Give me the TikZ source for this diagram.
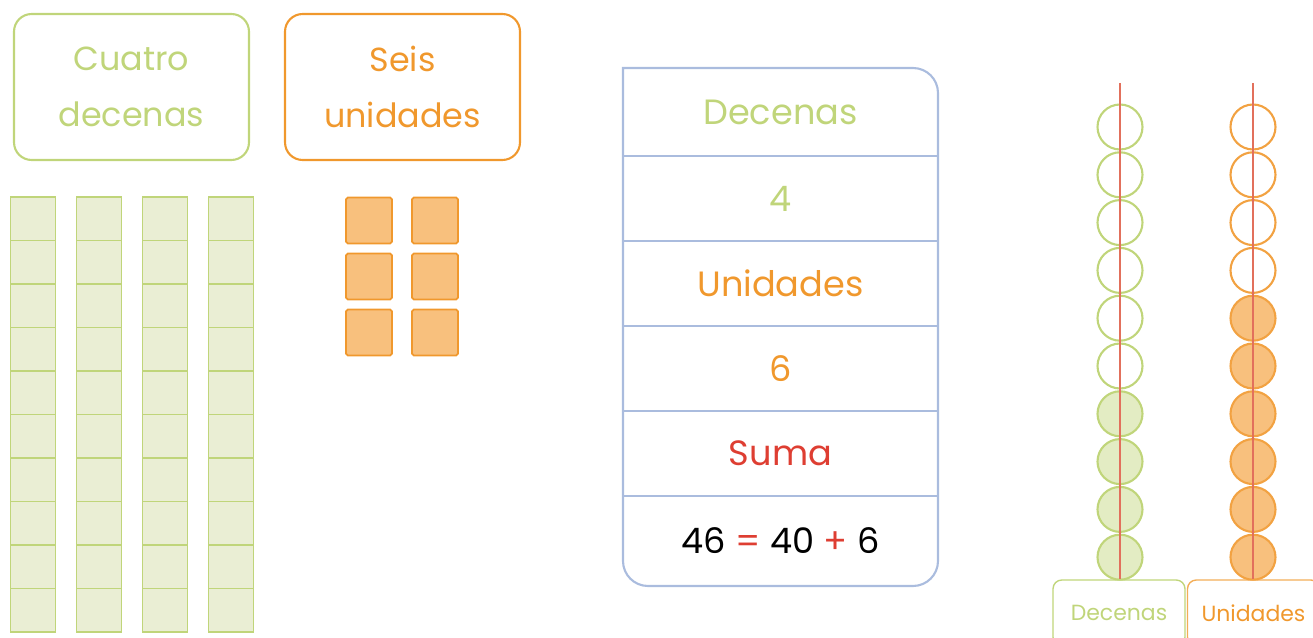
\documentclass[tikz,border=0pt]{standalone}
\usepackage{fontspec}
\setmainfont{Poppins}
\usetikzlibrary{positioning, calc}
\definecolor{tens}{RGB}{192,213,122}
\definecolor{tensfill}{RGB}{234,238,212}
\definecolor{units}{RGB}{240,152,45}
\definecolor{unitsfill}{RGB}{248,192,125}
\definecolor{gridline}{RGB}{170,188,222}
\definecolor{sumred}{RGB}{222,62,50}
\definecolor{rod}{RGB}{226,112,92}

\begin{document}
\begin{tikzpicture}[
    x=0.02cm, y=-0.02cm,
    titlebox/.style={draw, line width=1.2pt, rounded corners=10pt, minimum width=4.7cm,
      minimum height=2.92cm, align=center, font=\fontsize{19}{32}\selectfont},
    tencell/.style={draw=tens, fill=tensfill, line width=1pt, minimum width=0.9cm,
      minimum height=0.87cm, inner sep=0pt},
    unitcell/.style={draw=units, fill=unitsfill, line width=1pt, minimum size=0.92cm,
      inner sep=0pt, rounded corners=1pt},
    rowtext/.style={font=\fontsize{20}{24}\selectfont},
    bead/.style={circle, line width=1.2pt, minimum size=0.9cm, inner sep=0pt},
    tenbead/.style={bead, draw=tens},
    unitbead/.style={bead, draw=units!90},
    rodline/.style={rod, line width=0.8pt},
    footbox/.style={draw, line width=0.8pt, rounded corners=5pt, minimum width=2.64cm,
      minimum height=1.32cm, inner xsep=2pt, font=\fontsize{12.5}{15}\selectfont},
]

\path[use as bounding box] (0,0) rectangle (1313,638);
\clip (0,0) rectangle (1313,638);

\def\tabl{623}
\def\tabr{938}

% ===== Titles =====
\node[titlebox, draw=tens, text=tens] (cuatro) at (131.5,87) {Cuatro\\decenas};
\node[titlebox, draw=units, text=units] (seis) at (402.5,87) {Seis\\unidades};

% ===== Base-ten blocks =====
\foreach \c in {0,...,3}{
  \foreach \r in {0,...,9}{
    \node[tencell] (ten\c\r) at (33+\c*66, 218.75+\r*43.5) {};
  }
}
\foreach \c in {0,1}{
  \foreach \r in {0,1,2}{
    \node[unitcell] (one\c\r) at (369+\c*66, 220.5+\r*56) {};
  }
}

% ===== Table =====
\draw[gridline, line width=1.2pt, rounded corners=0.5cm, line cap=rect]
  (\tabl,68) -- (\tabr,68) -- (\tabr,586) -- (\tabl,586) -- (\tabl,68);
\foreach \y in {156,241,326,411,496}{
  \draw[gridline, line width=1.2pt] (\tabl,\y) -- (\tabr,\y);
}
\node[rowtext, text=tens] (dec) at (780.5,112) {Decenas};
\node[rowtext, text=tens] (four) at (780.5,198.5) {4};
\node[rowtext, text=units] (uni) at (780.5,283.5) {Unidades};
\node[rowtext, text=units] (six) at (780.5,368.5) {6};
\node[rowtext, text=sumred] (suma) at (780.5,453.5) {Suma};
\node[rowtext] (total) at (780.5,541)
  {46 \textcolor{sumred}{=} 40 \textcolor{sumred}{+} 6};

% ===== Abacus =====
\node[footbox, draw=tens, text=tens] (dlab) at (1119,613) {Decenas};
\node[footbox, draw=units!80, text=units] (ulab) at (1253.5,613) {Unidades};

\foreach \i in {0,...,9}{
  \ifnum\i<6
    \node[tenbead] (db\i) at (1120,127+\i*47.8) {};
  \else
    \node[tenbead, fill=tens!45] (db\i) at (1120,127+\i*47.8) {};
  \fi
  \ifnum\i<4
    \node[unitbead] (ub\i) at (1253,127+\i*47.8) {};
  \else
    \node[unitbead, fill=unitsfill] (ub\i) at (1253,127+\i*47.8) {};
  \fi
}

\coordinate (dtop) at (1120,83);
\coordinate (utop) at (1253,83);
\draw[rodline] (dtop) -- (dlab.north -| dtop);
\draw[rodline] (utop) -- (ulab.north -| utop);

\end{tikzpicture}
\end{document}
